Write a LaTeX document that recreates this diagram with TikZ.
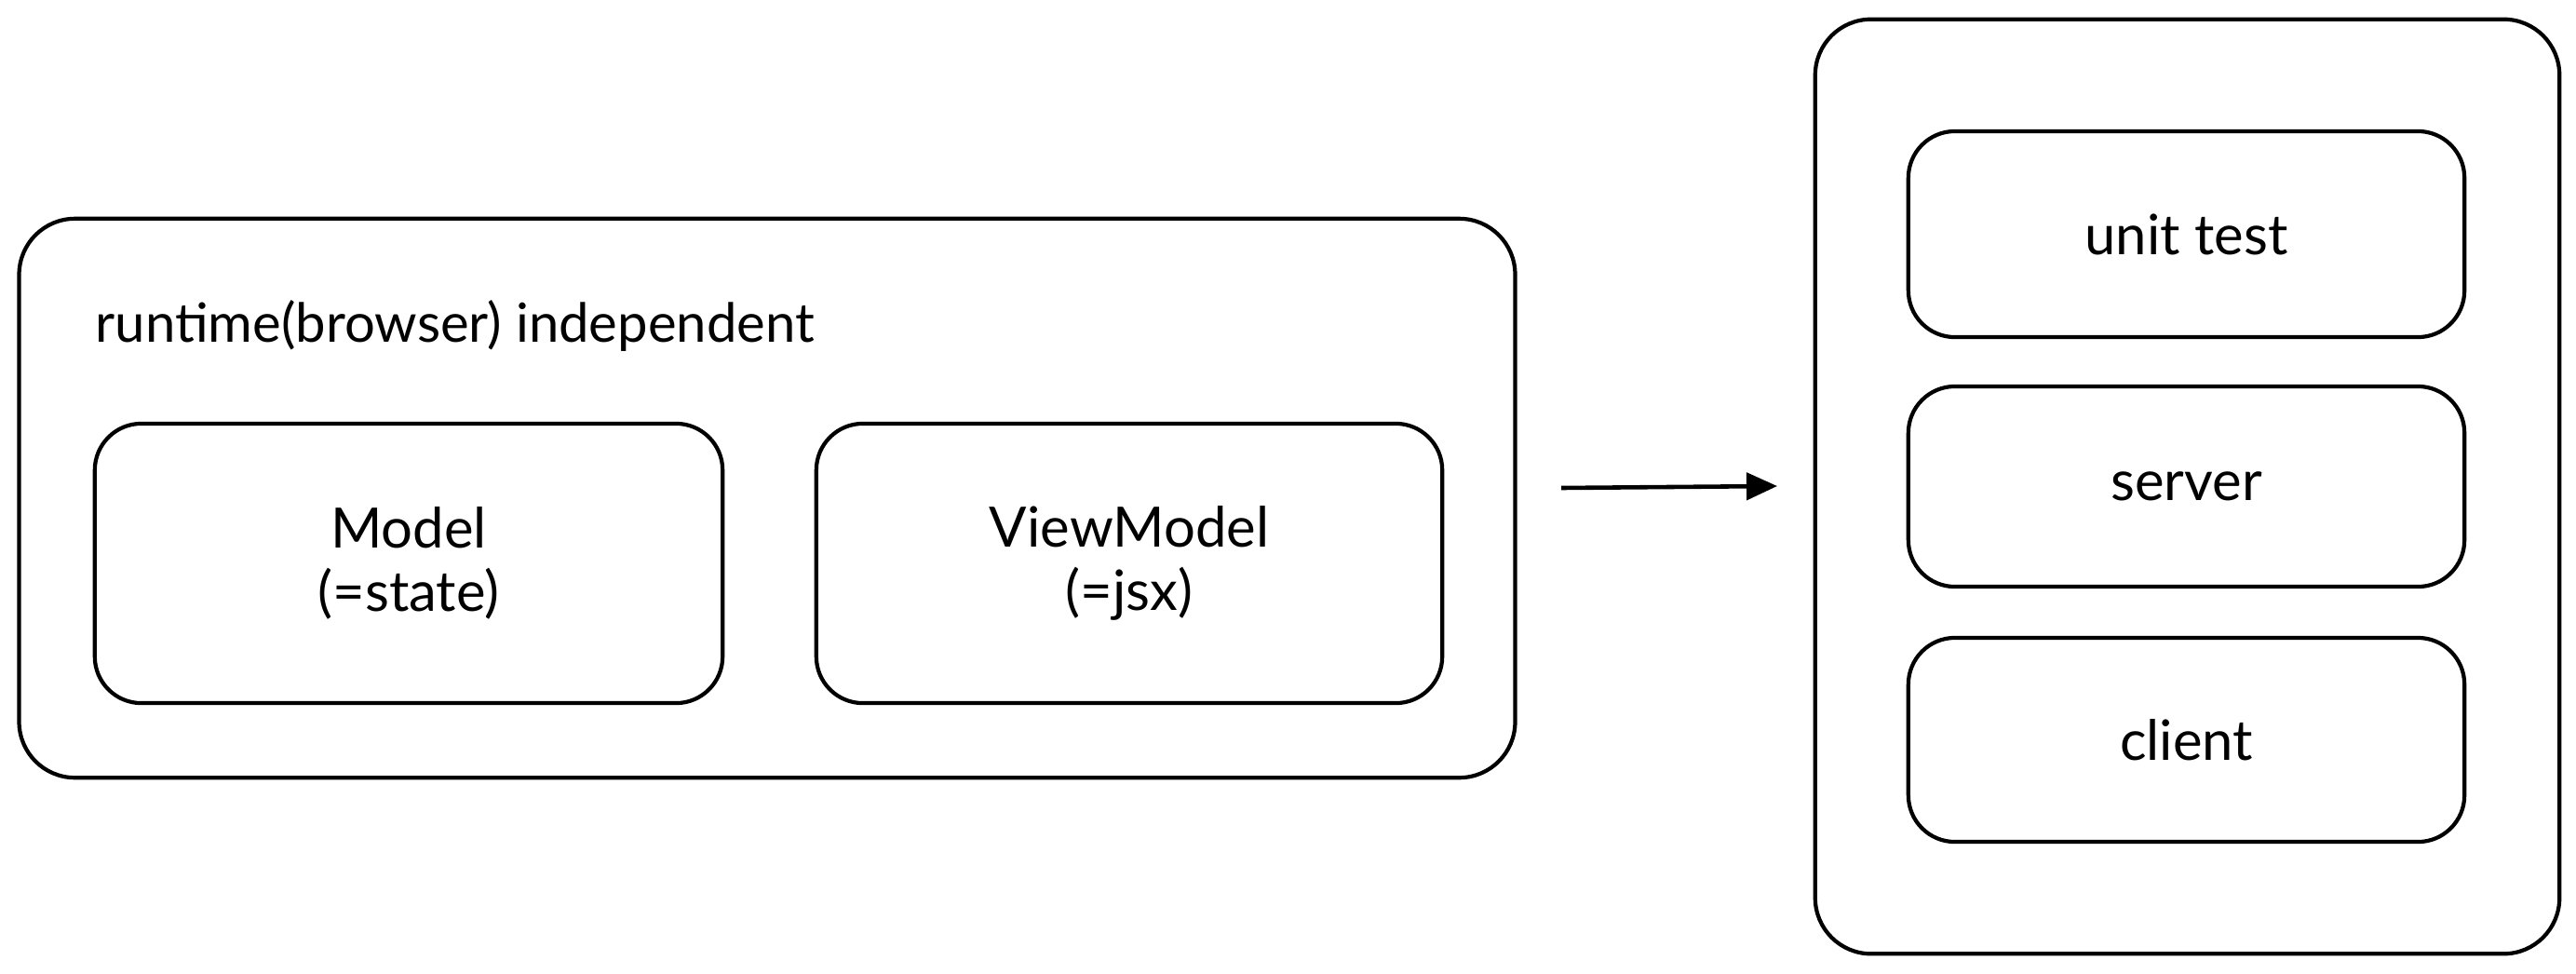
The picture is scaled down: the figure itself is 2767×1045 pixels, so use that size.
\documentclass[tikz,border=0pt]{standalone}
\usepackage{fontspec}
\setmainfont{Lato}
\usetikzlibrary{arrows.meta}
\begin{document}
\begin{tikzpicture}[x=0.01cm,y=-0.01cm,
  box/.style={draw=black,line width=1.2pt,rounded corners=0.5cm,inner sep=0pt,align=center,font=\fontsize{17}{19.5}\selectfont},
  outerbox/.style={draw=black,line width=1.2pt,rounded corners=0.6cm,inner sep=0pt},
  lbl/.style={inner sep=0pt,font=\fontsize{16.5}{20}\selectfont},
  conn/.style={line width=1.3pt,-{Triangle[length=0.33cm,width=0.29cm]}}]
\useasboundingbox (0,0) rectangle (2767,1045);
% left group
\node[outerbox,minimum width=16.06cm,minimum height=6.00cm] (left) at (824,535) {};
\node[lbl,anchor=west] (title) at (102,350) {runtime(browser) independent};
\node[box,minimum width=6.74cm,minimum height=3.00cm] (model) at (439,605) {Model\\(=state)};
\node[box,minimum width=6.72cm,minimum height=3.00cm] (vm) at (1213,605) {ViewModel\\(=jsx)};
% right group
\node[outerbox,minimum width=7.99cm,minimum height=10.03cm] (right) at (2349.5,522.5) {};
\node[box,minimum width=5.97cm,minimum height=2.21cm] (unit) at (2348.5,251.5) {unit test};
\node[box,minimum width=5.97cm,minimum height=2.15cm] (server) at (2348.5,522.5) {server};
\node[box,minimum width=5.97cm,minimum height=2.19cm] (client) at (2348.5,794.5) {client};
% arrow
\coordinate (a1) at (1677,524);
\coordinate (a2) at (1909,522);
\draw[conn] (a1) -- (a2);
\end{tikzpicture}
\end{document}
